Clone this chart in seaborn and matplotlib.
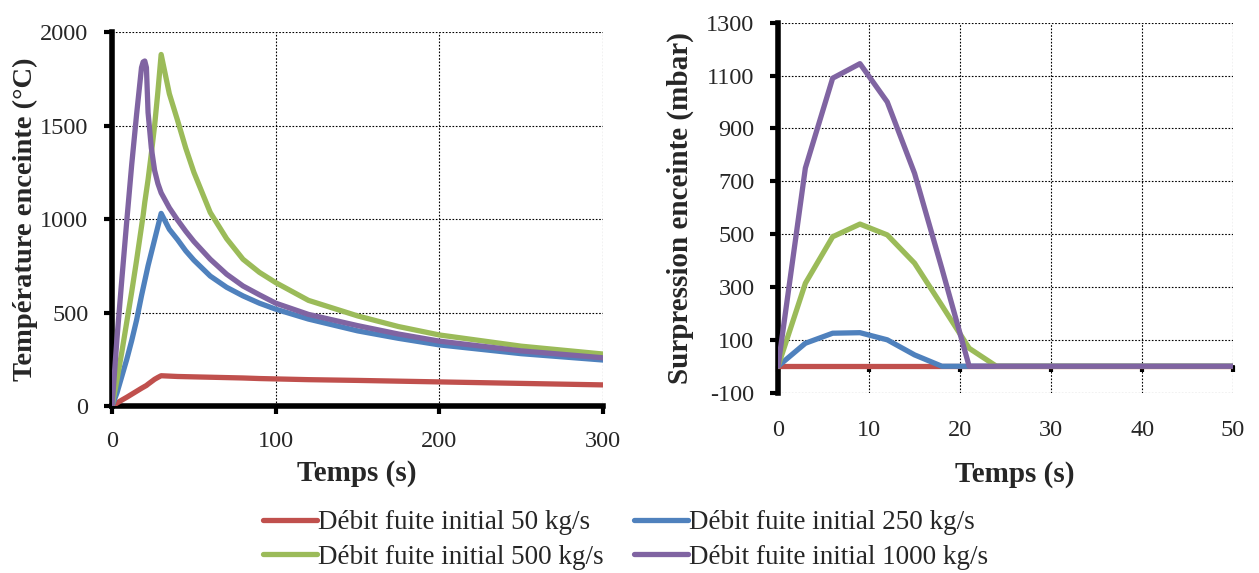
import pandas as pd
import matplotlib.pyplot as plt
import seaborn as sns

# series labels and colours
labels = ['Débit fuite initial 50 kg/s', 'Débit fuite initial 250 kg/s',
          'Débit fuite initial 500 kg/s', 'Débit fuite initial 1000 kg/s']
colors = ['#C0504D', '#4F81BD', '#9BBB59', '#8064A2']

# left chart: enclosure temperature (°C) vs time (s)
t_temp = [0, 3, 6, 9, 12, 15, 18, 19, 20, 21, 22, 24, 26, 28, 30, 35, 40, 45, 50,
          60, 70, 80, 90, 100, 120, 150, 175, 200, 250, 300]
temp_50 = [0, 16, 32, 47, 63, 79, 95, 100, 105, 110, 117, 130, 143, 153, 162, 160, 158,
           157, 156, 154, 152, 150, 147, 145, 141, 137, 133, 129, 121, 113]
temp_250 = [0, 70, 160, 250, 350, 460, 590, 630, 670, 710, 750, 820, 890, 960, 1030, 945,
            890, 830, 780, 695, 635, 589, 550, 518, 465, 402, 362, 327, 280, 246]
temp_500 = [0, 140, 290, 450, 610, 780, 960, 1020, 1090, 1150, 1210, 1350, 1500, 1680,
            1880, 1670, 1528, 1380, 1250, 1035, 895, 785, 715, 660, 565, 482, 425, 380,
            320, 278]
temp_1000 = [0, 360, 680, 990, 1290, 1560, 1810, 1840, 1845, 1810, 1570, 1380, 1260,
             1190, 1140, 1060, 995, 935, 880, 785, 705, 642, 595, 550, 490, 430, 385,
             347, 295, 258]

# right chart: enclosure overpressure (mbar) vs time (s)
t_pres = [0, 3, 6, 9, 12, 15, 18, 21, 24, 50]
pres_50 = [0, 0, 0, 0, 0, 0, 0, 0, 0, 0]
pres_250 = [0, 87, 125, 127, 100, 43, 0, 0, 0, 0]
pres_500 = [0, 314, 490, 538, 497, 390, 230, 68, 0, 0]
pres_1000 = [0, 750, 1090, 1145, 1000, 730, 370, 0, 0, 0]

temp_df = pd.DataFrame({'t': t_temp, labels[0]: temp_50, labels[1]: temp_250,
                        labels[2]: temp_500, labels[3]: temp_1000})
temp_long = temp_df.melt(id_vars='t', var_name='serie', value_name='v')
pres_df = pd.DataFrame({'t': t_pres, labels[0]: pres_50, labels[1]: pres_250,
                        labels[2]: pres_500, labels[3]: pres_1000})
pres_long = pres_df.melt(id_vars='t', var_name='serie', value_name='v')

sns.set_style('white')
plt.rcParams['font.family'] = ['Liberation Serif', 'DejaVu Serif']
plt.rcParams['axes.unicode_minus'] = False

fig = plt.figure(figsize=(12.59, 5.73), dpi=100)
ax1 = fig.add_axes([0.089, 0.2914, 0.390, 0.6527])
ax2 = fig.add_axes([0.618, 0.3147, 0.3614, 0.6457])

for ax, data in [(ax1, temp_long), (ax2, pres_long)]:
    sns.lineplot(data=data, x='t', y='v', hue='serie', hue_order=labels,
                 palette=colors, linewidth=3.8, sort=False, legend=False, ax=ax,
                 zorder=3)
    ax.grid(True, color='black', linestyle=(0, (1.5, 1.5)), linewidth=0.8)
    ax.set_axisbelow(True)
    for side in ['top', 'right']:
        ax.spines[side].set_visible(False)
    ax.spines['left'].set_linewidth(4)
    ax.spines['left'].set_color('black')
    ax.tick_params(axis='both', which='major', direction='out', length=6, width=3,
                   color='black', labelsize=17.5, left=True, bottom=True)
    ax.tick_params(axis='y', pad=11)

# left chart axes
ax1.set_xlim(0, 300)
ax1.set_ylim(0, 2000)
ax1.set_xticks([0, 100, 200, 300])
ax1.set_yticks([0, 500, 1000, 1500, 2000])
ax1.spines['bottom'].set_linewidth(4)
ax1.spines['bottom'].set_color('black')
ax1.tick_params(axis='x', pad=12)
ax1.set_xlabel('Temps (s)', fontsize=21, fontweight='bold')
ax1.xaxis.set_label_coords(0.499, -0.18)
ax1.xaxis.label.set_va('center')
ax1.set_ylabel('Température enceinte (°C)', fontsize=20.5, fontweight='bold')
ax1.yaxis.set_label_coords(-0.177, 0.5)
ax1.yaxis.label.set_va('center')

# right chart axes: x axis crosses at 0, labels stay below -100
ax2.set_xlim(0, 50)
ax2.set_ylim(-100, 1300)
ax2.set_xticks([0, 10, 20, 30, 40, 50])
ax2.set_yticks(list(range(-100, 1301, 200)))
ax2.spines['bottom'].set_position(('data', 0))
ax2.spines['bottom'].set_linewidth(2)
ax2.spines['bottom'].set_color('black')
ax2.tick_params(axis='x', pad=35, length=4, width=3)
ax2.set_xlabel('Temps (s)', fontsize=21, fontweight='bold')
ax2.xaxis.set_label_coords(0.52, -0.22)
ax2.xaxis.label.set_va('center')
ax2.set_ylabel('Surpression enceinte (mbar)', fontsize=21, fontweight='bold')
ax2.yaxis.set_label_coords(-0.215, 0.5)
ax2.yaxis.label.set_va('center')

# shared legend below, row-major order
lines = ax1.get_lines()[:4]
order = [0, 2, 1, 3]
fig.legend([lines[i] for i in order], [labels[i] for i in order], ncol=2,
           loc='center', bbox_to_anchor=(0.497, 0.0576), frameon=False,
           fontsize=19.5, handlelength=2.0, handletextpad=0.05, columnspacing=1.1,
           labelspacing=0.35, borderpad=0)

plt.savefig('out.png', dpi=100)
